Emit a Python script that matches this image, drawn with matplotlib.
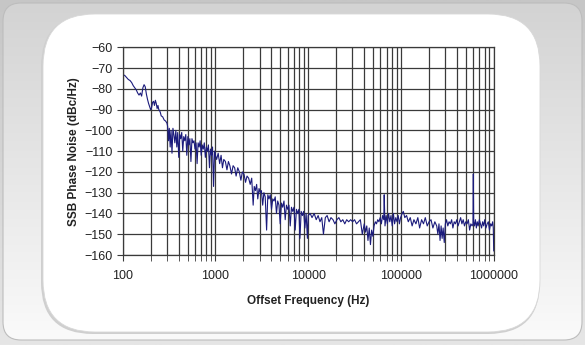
import numpy as np
import matplotlib.pyplot as plt
from matplotlib.patches import FancyBboxPatch
from matplotlib.colors import LinearSegmentedColormap
from matplotlib.ticker import FixedLocator, LogLocator, NullFormatter

plt.rcParams['font.family'] = ['Liberation Sans', 'DejaVu Sans']

# measured SSB phase noise, split by offset range
f_a = [100, 105, 110, 115, 120, 125, 130, 135, 140, 145, 150, 155, 160, 165, 170, 175, 180, 185, 190, 195,
       200, 205, 210, 215, 220, 225, 230, 235, 240, 245, 250, 255, 260, 270, 280, 290, 300]
l_a = [-73.3, -73.5, -74.5, -75.5, -76, -77, -78.5, -79.5, -80.5, -82, -83, -82, -83.5, -79.5, -78, -79, -82.5, -85, -87, -88.5,
       -90, -89, -86.5, -86, -88, -85.5, -87, -89.5, -88, -90, -90.5, -91.5, -93, -93.5, -95, -95.5, -96.5]

f_b = [305, 312, 318, 325, 332, 340, 348, 356, 365, 374, 383, 392, 402, 412, 422, 433, 444, 455, 467, 479,
       491, 504, 517, 530, 544, 558, 572, 587, 602, 618, 634, 650, 667, 684, 702, 720, 739, 758, 778, 798,
       819, 840, 862, 884, 907, 930, 954, 979, 1000]
l_b = [-98, -105, -99, -108, -100, -111, -99, -102, -106, -100, -108, -101, -113, -102, -104, -101, -110, -103, -105, -102,
       -112, -103, -107, -104, -115, -104, -106, -105, -109, -106, -116, -106, -108, -105, -112, -107, -109, -106, -113, -108,
       -110, -107, -118, -109, -112, -108, -127, -110, -112]

f_c = [1030, 1070, 1110, 1150, 1190, 1230, 1280, 1330, 1380, 1430, 1490, 1550, 1610, 1670, 1740, 1810, 1880, 1950, 2030, 2110,
       2190, 2280, 2370, 2460]
l_c = [-114, -111, -116, -112, -118, -114, -115, -119, -115, -117, -121, -117, -118, -122, -118, -120, -124, -120, -121, -125,
       -122, -123, -126, -123]

f_d = [2550, 2620, 2700, 2780, 2860, 2950, 3040, 3130, 3230, 3330, 3440, 3560, 3670, 3780, 3900, 4020, 4150, 4280, 4410, 4550,
       4690, 4840, 4990, 5150, 5310, 5480, 5650, 5830, 6010, 6200, 6400, 6600, 6810, 7020, 7240, 7470, 7700, 7940, 8140, 8400,
       8660, 8930, 9210, 9500, 9800, 10000]
l_d = [-136, -127, -129, -126, -133, -128, -130, -129, -136, -130, -132, -148, -131, -133, -131, -138, -133, -134, -132, -140,
       -134, -136, -145, -135, -137, -134, -143, -136, -138, -136, -146, -137, -139, -137, -148, -138, -140, -138, -152, -139,
       -141, -139, -147, -140, -152, -141]

f_e = [10500, 11000, 11600, 12200, 12800, 13400, 14000, 14600, 15300, 16000, 16800, 17600, 18500, 19400, 20400, 21400,
       22500, 23600, 24800, 26000, 27300, 28700, 30100, 31600, 33200, 34800, 36500, 38300]
l_e = [-140, -142, -140, -143, -141, -144, -142, -150, -142, -141, -144, -142, -143, -145, -143, -142,
       -144, -143, -145, -143, -144, -143, -144, -143, -145, -144, -143, -150]

f_f = [40200, 41500, 42800, 44100, 45500, 46900, 48300, 49800, 51300, 52900, 54500, 56200, 57900, 59700, 61500, 63400,
       65300, 66000, 67300, 69300, 71400, 73600, 75800, 78100, 80500, 82900, 85400, 88000, 90700, 93400, 96200, 99100]
l_f = [-145, -149, -146, -153, -147, -155, -148, -151, -146, -144, -145, -143, -144, -142, -145, -141,
       -143, -131, -146, -141, -145, -140, -144, -141, -146, -140, -145, -142, -144, -141, -145, -142]

f_g = [103000, 106000, 110000, 115000, 120000, 126000, 132000, 138000, 145000, 152000, 159000, 167000, 175000, 183000,
       192000, 201000, 211000, 221000, 232000, 243000, 250000, 257000, 264000, 271000, 278000, 285000, 293000, 301000,
       310000, 320000, 330000, 341000, 352000, 363000, 375000, 387000, 400000, 413000, 426000, 440000, 454000, 469000,
       484000, 500000, 516000, 533000, 550000, 567000, 585000]
l_g = [-140, -139, -142, -141, -144, -142, -146, -143, -145, -142, -147, -143, -145, -142,
       -146, -144, -143, -147, -144, -146, -150, -145, -153, -146, -152, -147, -154, -145,
       -143, -146, -144, -145, -143, -147, -144, -145, -143, -146, -144, -142, -145, -143,
       -146, -144, -145, -143, -148, -145, -146]

f_h = [598000, 603000, 608000, 620000, 635000, 650000, 665000, 680000, 700000, 720000, 740000, 760000,
       780000, 800000, 825000, 850000, 875000, 900000, 925000, 950000, 975000, 990000, 1000000]
l_h = [-145, -121, -144, -146, -143, -147, -144, -146, -143, -145, -147, -144,
       -146, -143, -147, -145, -144, -148, -145, -146, -144, -147, -158]

freq = np.concatenate([f_a, f_b, f_c, f_d, f_e, f_f, f_g, f_h])
level = np.concatenate([l_a, l_b, l_c, l_d, l_e, l_f, l_g, l_h])

y_ticks = list(range(-160, -59, 10))
x_ticks = [100, 1000, 10000, 100000, 1000000]
x_labels = ['100', '1000', '10000', '100000', '1000000']

W, H = 585, 345
fig = plt.figure(figsize=(W / 100, H / 100), dpi=100)

# framed background drawn in pixel units
bg = fig.add_axes([0, 0, 1, 1])
grad = np.linspace(0, 1, 200).reshape(-1, 1)
bg.imshow(grad, extent=(0, W, H, 0), aspect='auto', zorder=0,
          cmap=LinearSegmentedColormap.from_list('bg', ['#c6c6c6', '#e6e6e6']))
outer = FancyBboxPatch((3, 3), W - 6, H - 8, boxstyle='round,pad=0,rounding_size=18',
                       fc='none', ec='#bdbdbd', lw=0.8, zorder=2)
bg.add_patch(outer)
im = bg.imshow(grad, extent=(3, W - 3, H - 5, 3), aspect='auto', zorder=1,
               cmap=LinearSegmentedColormap.from_list('fr', ['#d3d3d3', '#fafafa']))
im.set_clip_path(outer)
shadow = FancyBboxPatch((41, 15), 499, 319, boxstyle='round,pad=0,rounding_size=52',
                        fc='#cfcfcf', ec='none', zorder=3)
bg.add_patch(shadow)
panel = FancyBboxPatch((43, 14), 497, 318, boxstyle='round,pad=0,rounding_size=52',
                       fc='white', ec='#d8d8d8', lw=0.6, zorder=4)
bg.add_patch(panel)
bg.set_xlim(0, W)
bg.set_ylim(H, 0)
bg.axis('off')

ax = fig.add_axes([122.7 / W, 1 - 255 / H, 371 / W, 207.7 / H])
ax.patch.set_alpha(0)
ax.semilogx(freq, level, color='#1b1b7c', lw=0.8)
ax.set_xlim(100, 1e6)
ax.set_ylim(-160, -60)
ax.set_yticks(y_ticks)
ax.xaxis.set_major_locator(FixedLocator(x_ticks))
ax.set_xticklabels(x_labels)
ax.xaxis.set_minor_locator(LogLocator(base=10, subs=np.arange(2, 10)))
ax.xaxis.set_minor_formatter(NullFormatter())

gc = '#3a3a3a'
ax.grid(True, which='both', axis='x', color=gc, lw=0.9)
ax.grid(True, which='major', axis='y', color=gc, lw=0.9)
for s in ax.spines.values():
    s.set_color(gc)
    s.set_linewidth(0.9)
ax.tick_params(axis='both', which='both', direction='out', length=4, color=gc,
               labelsize=9, labelcolor='#222222')
ax.tick_params(axis='x', which='major', pad=7)
ax.set_xlabel('Offset Frequency (Hz)', fontsize=8.5, fontweight='bold', color='#222222', labelpad=9)
ax.set_ylabel('SSB Phase Noise (dBc/Hz)', fontsize=8.5, fontweight='bold', color='#222222', labelpad=3)

fig.savefig('out.png', dpi=100)
